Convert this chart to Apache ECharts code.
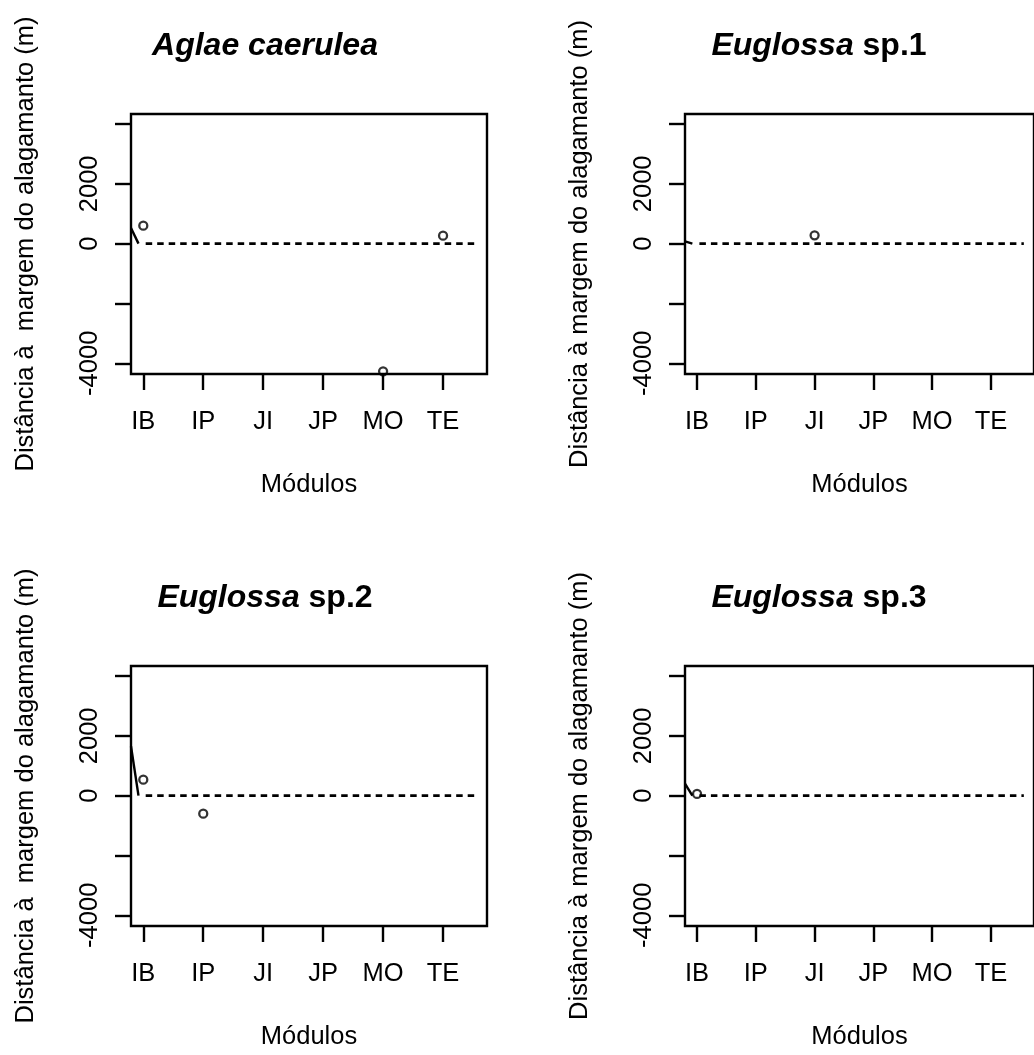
<!DOCTYPE html>
<html>
<head>
<meta charset="utf-8">
<script src="https://cdn.jsdelivr.net/npm/echarts@6/dist/echarts.min.js"></script>
<style>
  html, body { margin: 0; padding: 0; background: #fff; }
  #main { width: 1034px; height: 1055px; }
</style>
</head>
<body>
<div id="main"></div>
<script>
// modulos (eixo x) e ticks
var modulos = ['IB', 'IP', 'JI', 'JP', 'MO', 'TE'];
var xTicks = [1, 2, 3, 4, 5, 6];
var yTicks = [-4000, -2000, 0, 2000, 4000];
var yTickLabels = [-4000, 0, 2000];
var xRange = [0.795, 6.733];
var yRange = [-4358, 4334];

// especies
var generos = ['Aglae', 'Euglossa', 'Euglossa', 'Euglossa'];
var epitetos = ['caerulea', 'sp.1', 'sp.2', 'sp.3'];
var epitetoItalico = [true, false, false, false];
var yNomes = [
  'Distância à  margem do alagamanto (m)',
  'Distância à margem do alagamanto (m)',
  'Distância à  margem do alagamanto (m)',
  'Distância à margem do alagamanto (m)'
];
var xNome = 'Módulos';

// pontos: [modulo, distancia]
var pontosAglae = [[1, 602], [5, -4268], [6, 267]];
var pontosSp1 = [[3, 277]];
var pontosSp2 = [[1, 535], [2, -602]];
var pontosSp3 = [[1, 57]];

// curva ajustada (trecho inicial) e linha de referencia
var curvaAglae = [[0.795, 520], [0.92, 0]];
var curvaSp1 = [[0.795, 77], [0.92, 0]];
var curvaSp2 = [[0.795, 1650], [0.92, 0]];
var curvaSp3 = [[0.795, 400], [0.92, 0]];
var referencia = [[1.04, 0], [6.56, 0]];

var pontos = [pontosAglae, pontosSp1, pontosSp2, pontosSp3];
var curvas = [curvaAglae, curvaSp1, curvaSp2, curvaSp3];

(function() {
  var FONT = 'Liberation Sans, Arial, Helvetica, sans-serif';
  var lefts = [131, 685, 131, 685];
  var tops = [114, 114, 666, 666];
  var titleX = [265, 819, 265, 819];
  var titleY = [30, 30, 582, 582];
  var W = 356, H = 260;
  var LW = 2.4;

  var option = {
    backgroundColor: '#fff',
    animation: false,
    title: [],
    grid: [],
    xAxis: [],
    yAxis: [],
    series: []
  };

  for (var i = 0; i < 4; i++) {
    var epi = epitetoItalico[i] ? '{i|' + epitetos[i] + '}' : '{b|' + epitetos[i] + '}';
    option.title.push({
      text: '{i|' + generos[i] + '} ' + epi,
      left: titleX[i],
      top: titleY[i],
      textAlign: 'center',
      padding: 0,
      textStyle: {
        fontFamily: FONT,
        fontSize: 32,
        fontWeight: 'bold',
        color: '#000',
        rich: {
          i: { fontFamily: FONT, fontSize: 32, fontWeight: 'bold', fontStyle: 'italic', color: '#000' },
          b: { fontFamily: FONT, fontSize: 32, fontWeight: 'bold', color: '#000' }
        }
      }
    });

    option.grid.push({
      left: lefts[i],
      top: tops[i],
      width: W,
      height: H,
      show: true,
      borderColor: '#000',
      borderWidth: LW,
      backgroundColor: 'transparent'
    });

    option.xAxis.push({
      type: 'value',
      gridIndex: i,
      min: xRange[0],
      max: xRange[1],
      name: xNome,
      nameLocation: 'middle',
      nameGap: 98,
      nameTextStyle: { fontFamily: FONT, fontSize: 25.5, color: '#000' },
      axisLine: { show: false, onZero: false },
      splitLine: { show: false },
      axisTick: {
        show: true,
        length: 16,
        customValues: xTicks,
        lineStyle: { color: '#000', width: LW }
      },
      axisLabel: {
        customValues: xTicks,
        margin: 35,
        fontFamily: FONT,
        fontSize: 25.5,
        color: '#000',
        formatter: function(v) {
          return modulos[Math.round(v) - 1];
        }
      }
    });

    option.yAxis.push({
      type: 'value',
      gridIndex: i,
      min: yRange[0],
      max: yRange[1],
      name: yNomes[i],
      nameLocation: 'middle',
      nameRotate: 90,
      nameGap: 92,
      nameTextStyle: { fontFamily: FONT, fontSize: 25.5, color: '#000' },
      axisLine: { show: false, onZero: false },
      splitLine: { show: false },
      axisTick: {
        show: true,
        length: 16,
        customValues: yTicks,
        lineStyle: { color: '#000', width: LW }
      },
      axisLabel: {
        customValues: yTickLabels,
        rotate: 90,
        margin: 28,
        fontFamily: FONT,
        fontSize: 25.5,
        color: '#000',
        formatter: function(v) {
          return String(v);
        }
      }
    });

    option.series.push({
      type: 'line',
      xAxisIndex: i,
      yAxisIndex: i,
      data: curvas[i],
      symbol: 'none',
      silent: true,
      lineStyle: { color: '#000', width: LW }
    });
    option.series.push({
      type: 'line',
      xAxisIndex: i,
      yAxisIndex: i,
      data: referencia,
      symbol: 'none',
      silent: true,
      lineStyle: { color: '#000', width: 2.6, type: [6.5, 5] }
    });
    option.series.push({
      type: 'scatter',
      xAxisIndex: i,
      yAxisIndex: i,
      data: pontos[i],
      symbol: 'circle',
      symbolSize: 8,
      clip: false,
      silent: true,
      itemStyle: { color: 'rgba(0,0,0,0)', borderColor: '#000', borderWidth: 2.3 }
    });
  }

  var chart = echarts.init(document.getElementById('main'), null, { renderer: 'canvas' });
  chart.setOption(option);
})();
</script>
</body>
</html>
